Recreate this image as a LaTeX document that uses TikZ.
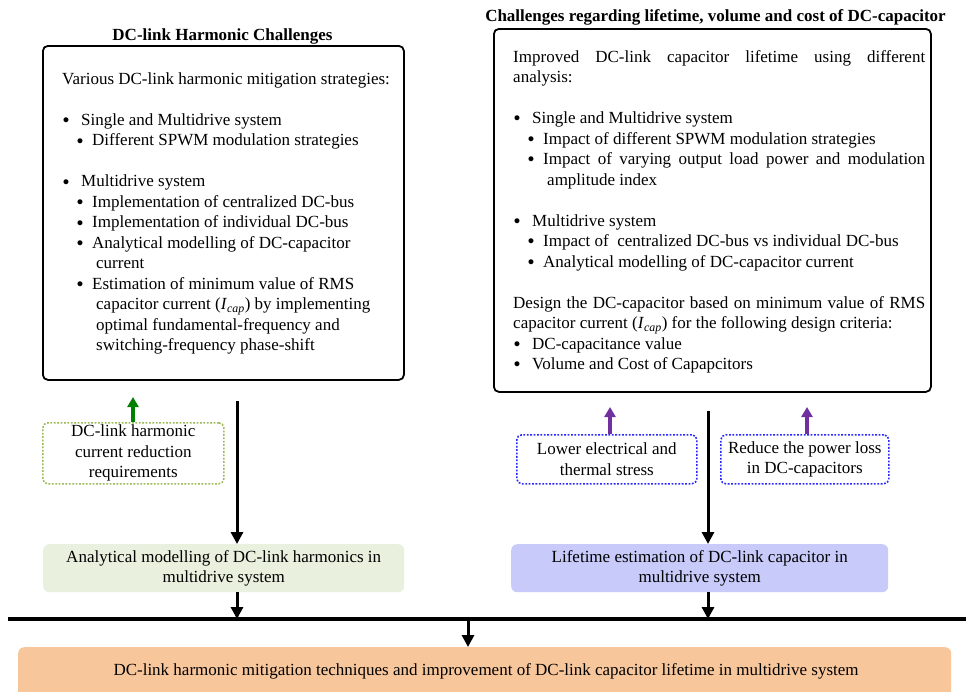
\documentclass[tikz,border=0pt]{standalone}
\usepackage{fontspec}
\setmainfont{Liberation Serif}
\usetikzlibrary{arrows.meta}
\definecolor{fillgreen}{RGB}{233,240,222}
\definecolor{filllav}{RGB}{200,202,250}
\definecolor{fillorange}{RGB}{248,198,155}
\definecolor{dotgreen}{RGB}{155,187,89}
\definecolor{dotblue}{RGB}{40,40,255}
\definecolor{arrgreen}{RGB}{0,128,0}
\definecolor{arrpurple}{RGB}{112,48,160}
\newcommand{\myfs}{\fontsize{17pt}{20.5pt}\selectfont}
\newcommand{\bigdot}{\raisebox{1.6pt}{\fontsize{11.5pt}{11.5pt}\selectfont ●}}
\newcommand{\mbul}{\makebox[19pt][l]{\hspace*{0.5pt}\bigdot}}
\newcommand{\msbul}{\hspace*{14.5pt}\makebox[15.5pt][l]{\bigdot}}
\newcommand{\mcont}{\hspace*{34pt}}
\newcommand{\icap}{\textit{I}\textsubscript{\textit{cap}}}
\tikzset{
  bigbox/.style={draw=black, line width=1.8pt, rounded corners=5pt, anchor=north west, inner sep=0pt},
  txt/.style={font=\myfs, align=left, inner sep=0pt, anchor=north west},
  ttl/.style={font=\myfs\bfseries, inner sep=0pt, anchor=base},
  dotbox/.style={line width=1.6pt, dash pattern=on 1.8pt off 1.6pt, rounded corners=5pt, align=center, font=\myfs, inner sep=0pt, anchor=north west},
  fillbox/.style={rounded corners=6pt, align=center, font=\myfs, inner sep=0pt, anchor=north west},
  blk/.style={line width=3pt, -{Triangle[length=12pt,width=12pt]}},
  carr/.style={line width=3.2pt, -{Triangle[length=10pt,width=11pt]}},
}
\begin{document}
\begin{tikzpicture}[x=1pt,y=-1pt]
\useasboundingbox (0,0) rectangle (966,691);
\clip (0,0) rectangle (966,691);
% titles
\node[ttl] (ltitle) at (222.5,40.6) {DC-link Harmonic Challenges};
\node[ttl] (rtitle) at (715.5,21) {Challenges regarding lifetime, volume and cost of DC-capacitor};
% big boxes
\node[bigbox, minimum width=361pt, minimum height=334pt] (lbox) at (42,45) {};
\node[bigbox, minimum width=437pt, minimum height=363pt] (rbox) at (493,28) {};
% left text
\node[txt] (ltxt) at (62,72.4) {Various DC-link harmonic mitigation strategies:\\[20.5pt]
\mbul Single and Multidrive system\\
\msbul Different SPWM modulation strategies\\[20.5pt]
\mbul Multidrive system\\
\msbul Implementation of centralized DC-bus\\
\msbul Implementation of individual DC-bus\\
\msbul Analytical modelling of DC-capacitor\\
\mcont current\\
\msbul Estimation of minimum value of RMS\\
\mcont capacitor current (\icap) by implementing\\
\mcont optimal fundamental-frequency and\\
\mcont switching-frequency phase-shift};
% right text
\node[txt] (rtxt) at (513,49.9) {\makebox[412pt][s]{Improved DC-link capacitor lifetime using different}\\
analysis:\\[20.5pt]
\mbul Single and Multidrive system\\
\msbul Impact of different SPWM modulation strategies\\
\msbul \makebox[382pt][s]{Impact of varying output load power and modulation}\\
\mcont amplitude index\\[20.5pt]
\mbul Multidrive system\\
\msbul Impact of \ centralized DC-bus vs individual DC-bus\\
\msbul Analytical modelling of DC-capacitor current\\[20.5pt]
\makebox[412pt][s]{Design the DC-capacitor based on minimum value of RMS}\\
capacitor current (\icap) for the following design criteria:\\
\mbul DC-capacitance value\\
\mbul Volume and Cost of Capapcitors};
% dotted boxes
\node[dotbox, draw=dotgreen, minimum width=181pt, minimum height=61pt] (gbox) at (42,422) {DC-link harmonic\\current reduction\\requirements};
\node[dotbox, draw=dotblue, minimum width=180pt, minimum height=49pt] (bbox1) at (516,434) {Lower electrical and\\thermal stress};
\node[dotbox, draw=dotblue, minimum width=168pt, minimum height=49pt] (bbox2) at (720,434) {Reduce the power loss\\in DC-capacitors};
% filled boxes
\node[fillbox, fill=fillgreen, minimum width=361pt, minimum height=48pt] (abox) at (43,544) {Analytical modelling of DC-link harmonics in\\multidrive system};
\node[fillbox, fill=filllav, minimum width=377pt, minimum height=48pt] (lifebox) at (511,544) {Lifetime estimation of DC-link capacitor in\\multidrive system};
\node[fillbox, fill=fillorange, minimum width=933pt, minimum height=60pt, anchor=north west] (obox) at (18,647) {};
\node[font=\myfs, inner sep=0pt, anchor=base] (otxt) at (486,675.5) {DC-link harmonic mitigation techniques and improvement of DC-link capacitor lifetime in multidrive system};
% coordinates
\coordinate (lstart) at (237,401);
\coordinate (rstart) at (708,411);
\coordinate (busL) at (8,619);
\coordinate (busR) at (966,619);
\coordinate (busA) at (237,619);
\coordinate (busB) at (708,619);
\coordinate (busC) at (468,619);
\coordinate (gtip) at (133,397);
\coordinate (p1tip) at (610,407);
\coordinate (p2tip) at (807,407);
% connectors
\draw[blk] (lstart) -- (abox.north -| lstart);
\draw[blk] (rstart) -- (lifebox.north -| rstart);
\draw[blk] (abox.south -| busA) -- (busA);
\draw[blk] (lifebox.south -| busB) -- (busB);
\draw[line width=3.2pt] (busL) -- (busR);
\draw[blk] (busC) -- (obox.north -| busC);
\draw[carr, arrgreen] (gbox.north -| gtip) -- (gtip);
\draw[carr, arrpurple] (bbox1.north -| p1tip) -- (p1tip);
\draw[carr, arrpurple] (bbox2.north -| p2tip) -- (p2tip);
\end{tikzpicture}
\end{document}
